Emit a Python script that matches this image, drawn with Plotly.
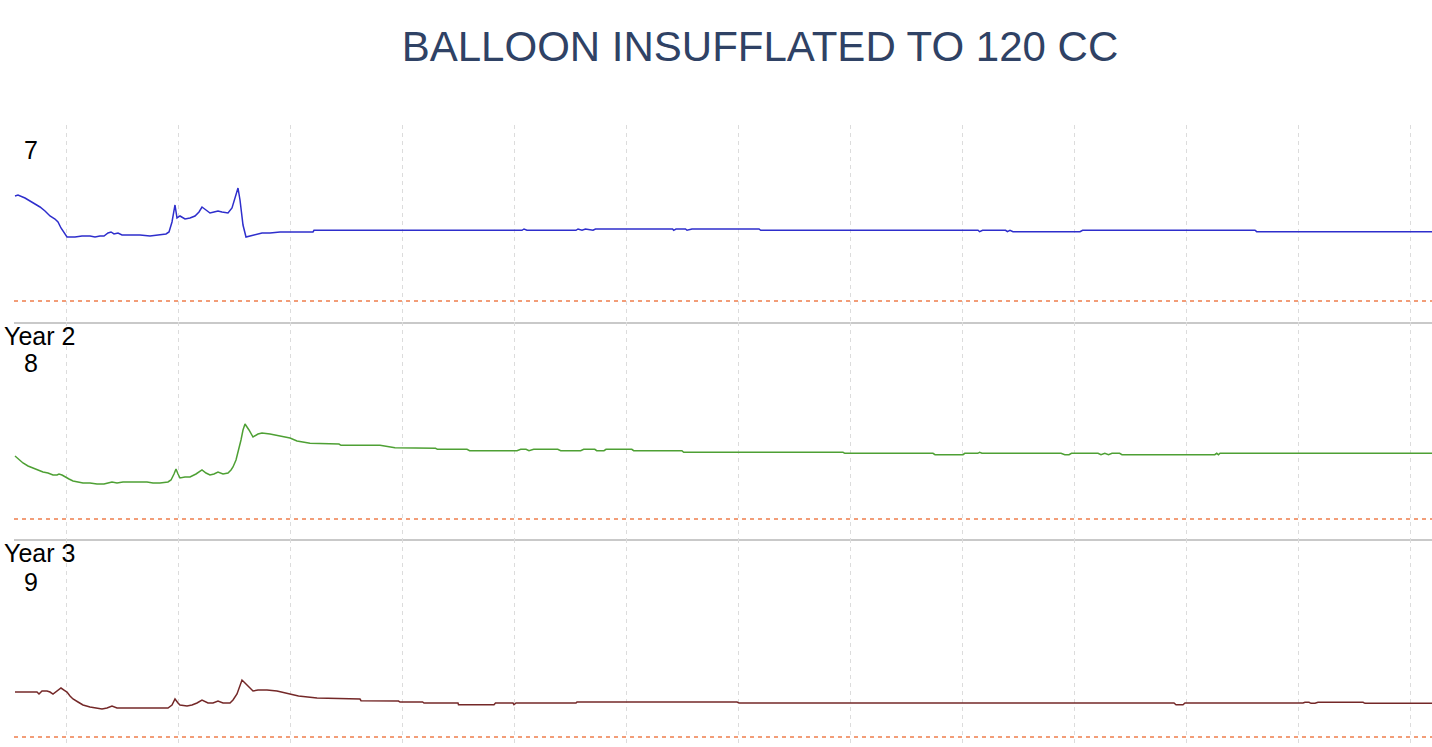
import plotly.graph_objects as go

TITLE = "BALLOON INSUFFLATED TO 120 CC"
channel_labels = ["7", "8", "9"]
year_labels = ["", "Year 2", "Year 3"]

# channel 7 (blue)
ch7_x = [1, 4, 11, 18, 26, 31, 36, 41, 44, 47, 50, 53, 61, 68, 76, 81, 86, 90, 94, 97, 100, 104, 108, 126,
         136, 146, 152, 155, 158, 161, 163, 166, 171, 176, 181, 185, 188, 192, 196, 200, 204, 208, 214, 218,
         221, 224, 226, 229, 232, 236, 241, 248, 256, 266, 299, 300, 508, 510, 513, 562, 564, 568, 571.5, 579,
         581.5, 658.6, 659.7, 662, 671.5, 673, 678, 745, 746.7, 964, 965.6, 968.6, 991.6, 993.4, 996, 999,
         1066, 1068.6, 1241, 1242.7, 1418]
ch7_y = [105, 106, 103, 99, 94, 90, 85, 82, 79, 73, 68, 64, 64, 65, 65, 64, 65, 65, 68, 69, 67, 68, 66, 66,
         65, 66, 67, 69, 79, 96, 83, 85, 82, 83, 85, 89, 94, 91, 88, 89, 90, 89, 88, 93,
         103, 113, 101, 76, 64, 65, 66, 68, 68, 69, 69, 70.7, 70.7, 72, 70.7, 70.7, 72, 70.7, 72, 70.7,
         72, 72, 70.7, 72, 72, 70.7, 72, 72, 70.7, 70.7, 69.3, 70.7, 70.7, 69.3, 70.7, 69.3,
         69.3, 70.7, 70.7, 69.3, 69.3]

# channel 8 (green)
ch8_x = [1, 5, 9, 14, 19, 24, 29, 34, 39, 43, 45, 48, 51, 55, 59, 64, 69, 76, 83, 90, 94, 98, 103, 109,
         121, 133, 139, 146, 154, 157, 160, 162, 164, 166, 171, 176, 182, 188, 192, 196, 200, 204, 209, 214,
         217, 219, 222, 224, 227, 229, 231, 235, 239, 244, 248, 256, 269, 276, 283, 296, 325, 327, 366, 381,
         421.6, 423.4, 453, 455.6, 503, 506.7, 512, 515, 519.7, 543.8, 546.7, 562, 564, 566.7, 569.7, 580.8,
         582.7, 590, 592, 617.8, 619.7, 667.9, 669.7, 829, 830.8, 919, 921, 949, 950.8, 963.8, 965.6, 968,
         1047, 1050.8, 1055, 1057.5, 1084, 1087, 1090.8, 1094.5, 1098, 1105.6, 1108, 1200.8, 1202.7, 1204.5,
         1206, 1418]
ch8_y = [63, 59, 56, 53, 51, 49, 47, 46, 44, 44, 45, 44, 42, 40, 38, 37, 36, 36, 35, 35, 36, 37, 36, 37,
         37, 37, 36, 36, 37, 39, 45, 50, 45, 41, 42, 42, 45, 49, 46, 44, 45, 47, 45, 46,
         49, 52, 59, 66, 79, 89, 95, 89, 82, 85, 86, 85, 82, 81, 78, 75.7, 75, 73.7, 73.7, 71.3,
         70.7, 69.7, 69.7, 68.3, 68.3, 69.7, 69.7, 68.3, 69.7, 69.7, 68.3, 68.3, 69, 68.3, 69.7, 69.7,
         68.3, 68.3, 69.7, 69.7, 68.3, 68.3, 66.7, 66.7, 65.7, 65.7, 64.3, 64.3, 65.7, 65.7, 66.7, 65.7,
         65.7, 64.3, 64.3, 65.7, 65.7, 64.3, 65.7, 64.3, 65.7, 65.7, 64.3, 64.3, 65.7, 64.3,
         65.7, 65.7]

# channel 9 (maroon)
ch9_x = [1, 23, 25, 28, 33, 36, 39, 43, 47, 50, 53, 56, 59, 64, 69, 76, 82, 88, 93, 98, 103, 126, 154, 158,
         161, 164, 166, 173, 178, 183, 188, 194, 199, 204, 209, 216, 219, 223, 226, 228, 231, 234, 239, 244,
         253, 263, 270, 275, 284.5, 303, 346, 347, 384.5, 386, 408.6, 410, 444, 444.5, 480, 481.5, 499, 500,
         502, 562, 563, 723, 725, 1160, 1162, 1169, 1171, 1289, 1291, 1295, 1297, 1301, 1304, 1349, 1351, 1418]
ch9_y = [45, 45, 43, 46, 46, 45, 43, 46, 49, 47, 45, 41, 38, 35, 32, 30, 29, 28, 29, 31, 29, 29, 29, 32,
         38, 34, 32, 31, 32, 34, 37, 34, 34, 36, 34, 34, 37, 43, 51, 57, 54, 51, 46, 47,
         47, 46, 44.3, 43, 41, 39, 38, 36.3, 36, 35, 35, 34, 34, 32.3, 32.3, 34, 34, 32.3,
         34, 34, 35, 35, 34, 34, 32.3, 32.3, 34, 34, 34.7, 34.7, 33.7, 33.7, 34.7, 34.7, 33.7, 33.7]

reference_level = 0
x_extent = [0, 1418]
y_ranges = [[-21, 176], [-20, 197], [-10, 198]]

series = [(ch7_x, ch7_y, "#2e2ecc"), (ch8_x, ch8_y, "#4ea034"), (ch9_x, ch9_y, "#742828")]

FIG_W, FIG_H = 1432, 747

fig = go.Figure()
domains = [[0.6833, 1.0], [0.3344, 0.6833], [0.0, 0.3344]]

for i, (xs, ys, col) in enumerate(series):
    ax = "" if i == 0 else str(i + 1)
    fig.add_trace(go.Scatter(x=xs, y=ys, mode="lines", line=dict(color=col, width=1.5),
                             xaxis="x" + ax, yaxis="y" + ax, showlegend=False, hoverinfo="skip"))
    fig.add_trace(go.Scatter(x=x_extent, y=[reference_level, reference_level], mode="lines",
                             line=dict(color="#ee7d4c", width=1.3, dash="4px,4px"),
                             xaxis="x" + ax, yaxis="y" + ax, showlegend=False, hoverinfo="skip"))

layout = dict(
    width=FIG_W, height=FIG_H,
    margin=dict(l=14, r=0, t=125, b=0),
    paper_bgcolor="white", plot_bgcolor="white",
    title=dict(text=TITLE, x=760 / FIG_W, xref="container", xanchor="center",
               y=1 - 46 / FIG_H, yref="container", yanchor="middle",
               font=dict(family="Liberation Sans, Arial, sans-serif", size=42, color="#2f4265")),
    showlegend=False,
)
for i in range(3):
    ax = "" if i == 0 else str(i + 1)
    layout["xaxis" + ax] = dict(
        domain=[0, 1], range=x_extent, anchor="y" + ax,
        showticklabels=False, ticks="", zeroline=False,
        showgrid=True, gridcolor="#dcdcdc", gridwidth=1, griddash="4px,4px",
        tick0=52, dtick=112,
        showline=(i < 2), linecolor="#c9c9c9", linewidth=1.5,
        matches=None if i == 0 else "x",
    )
    layout["yaxis" + ax] = dict(
        domain=domains[i], range=y_ranges[i], anchor="x" + ax,
        showticklabels=False, showgrid=False, zeroline=False, ticks="",
    )
fig.update_layout(**layout)

label_font = dict(family="Liberation Sans, Arial, sans-serif", size=25, color="black")
label_y_px = [150, 363, 582]
year_y_px = [None, 336, 553]
for i in range(3):
    fig.add_annotation(text=channel_labels[i], xref="paper", yref="paper",
                       x=(31 - 14) / 1418, y=(747 - label_y_px[i]) / 622,
                       xanchor="center", yanchor="middle", showarrow=False, font=label_font)
    if year_labels[i]:
        fig.add_annotation(text=year_labels[i], xref="paper", yref="paper",
                           x=(2 - 14) / 1418, y=(747 - year_y_px[i]) / 622,
                           xanchor="left", yanchor="middle", showarrow=False, font=label_font)

# remove the default 8px page margin so the figure fills the window exactly
fig.write_html("out.html", config={"displayModeBar": False},
               post_script="document.body.style.margin='0px';document.body.style.overflow='hidden';")
